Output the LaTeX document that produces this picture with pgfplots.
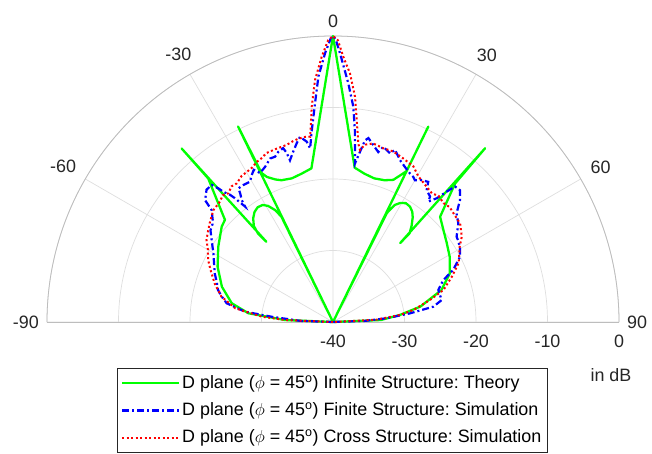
\documentclass[border=0pt]{standalone}
\usepackage{fontspec}
\setmainfont{Liberation Sans}
\usepackage{pgfplots}
\usepackage{pgfplotstable}
\pgfplotsset{compat=1.18}
\usepgfplotslibrary{polar}
\definecolor{ticktext}{HTML}{262626}
\definecolor{gridc}{HTML}{DEDEDE}
\definecolor{rimc}{HTML}{BDBDBD}
\definecolor{mgreen}{HTML}{00FF00}
\definecolor{mblue}{HTML}{0000FF}
\definecolor{mred}{HTML}{FF0000}

\pgfplotstableread{
t r
-90 -40
-87.6 -33.3
-84.1 -28.1
-79.5 -25.6
-72.4 -23.7
-64.4 -22.1
-56.7 -20.8
-49.4 -19.5
-46.6 -19.2
-41.0 -13.4
-41.1 -7.8
-39.7 -25.4
-40.3 -23.8
-39.5 -22.6
-37.6 -21.7
-35.5 -21.1
-33.3 -20.8
-31.0 -20.9
-29.2 -21.4
-27.3 -22.4
-26.1 -23.6
-25.9 -40
-25.9 -9.6
-25.6 -16.9
-24.5 -17.7
-22 -18.5
-20 -18.9
-16 -19.1
-12 -18.8
-8.0 -18.3
0 0
8.0 -18.2
12 -18.8
16 -19.1
20 -18.9
23 -18.4
25.3 -17.0
26.0 -16.5
26.0 -9.6
26.1 -40
26.3 -23.0
27.8 -21.5
29.4 -20.9
31.5 -20.5
33.7 -20.6
35.7 -21.0
37.3 -21.6
39.2 -22.6
40.8 -23.6
40.4 -25.5
41.2 -7.7
41.4 -14.2
45.5 -19.0
50.2 -19.9
55 -20.6
60.8 -21.3
67.4 -22.3
73.6 -24.2
80 -27.6
84 -30.6
87.6 -33.3
90 -40
}\greendata

\pgfplotstableread{
t r
-90 -40
-88 -35.4
-85.1 -31.4
-83.3 -27.6
-80 -24.9
-77 -24.0
-74.4 -23.3
-71 -22.8
-67.6 -22.1
-64 -21.5
-60.1 -20.7
-55.9 -19.5
-53.2 -18.6
-51 -18.3
-49.6 -17.9
-47.3 -16.9
-46.4 -15.3
-43.7 -14.4
-41.5 -14.4
-40.6 -15.4
-40.1 -16.2
-39 -17.1
-38.4 -17.9
-37.3 -19.7
-36.8 -18.7
-35.8 -17.8
-35.3 -17.1
-33.2 -17.1
-30.6 -17.2
-28.9 -16.5
-27.5 -16.0
-26.1 -16.8
-23.6 -16.3
-21 -15.5
-19.3 -15.5
-17.8 -15.0
-16 -14.7
-15.3 -15.5
-14.9 -16.6
-13.1 -15.5
-11.5 -14.5
-10.1 -13.7
-8.3 -14.5
-7.5 -15.5
-6.3 -13.0
-4.7 -9.3
-3.4 -5.6
-1.7 -2.4
-0.5 -0.4
0 0
0.5 -0.4
1.5 -2.4
3.67 -6.55
5.39 -9.75
6.5 -13.0
7.9 -17.6
9.0 -15.9
10.0 -14.2
10.9 -13.8
12.8 -14.6
14.9 -15.4
16.0 -14.5
18.7 -15.1
19.8 -14.4
22.5 -15.5
24.9 -16.1
27.4 -16.6
28.9 -16.8
30 -17.1
32 -16.6
34.2 -16.3
35.4 -17.4
37.7 -17.8
38.4 -18.5
40 -17.4
41.1 -15.8
42 -14.5
43.9 -14.4
46.2 -15.4
48.7 -17.0
51.8 -17.7
55.4 -19.0
56.8 -19.1
59.5 -19.4
62.8 -20.0
66.6 -21.7
69.2 -23.5
73.1 -24.6
78.6 -24.5
81.3 -25.8
83.6 -29.2
86 -32.5
88 -35.5
90 -40
}\bluedata

\pgfplotstableread{
t r
-90 -40
-87.6 -33.3
-85.7 -30.0
-82 -26.2
-77.2 -24.0
-72 -22.6
-67 -21.4
-63.6 -20.5
-60 -19.8
-57 -18.9
-54 -18.4
-51.3 -17.9
-47 -17.1
-43.2 -16.9
-41 -16.5
-39.1 -16.8
-36.8 -16.3
-34.8 -16.4
-32 -15.9
-29.9 -15.8
-27.5 -15.6
-25.5 -15.2
-23.5 -15.0
-21.5 -14.6
-18 -14.5
-14.7 -14.4
-12.5 -14.1
-10.7 -13.9
-8.1 -13.8
-7.0 -13.9
-5.65 -9.74
-4.25 -6.06
-2.44 -2.87
-1 -0.6
0 0
1 -0.6
2.22 -2.87
3.9 -5.13
5.58 -8.34
6.7 -11.55
8.06 -14.76
8.9 -15.65
10.2 -14.8
12.7 -14.4
16.1 -14.7
19.5 -14.7
23.2 -15.1
27.3 -15.5
30.4 -16.4
34 -16.9
37.5 -17.3
40 -17.0
42.9 -17.3
45.5 -17.1
47.9 -17.3
52.2 -17.5
56.5 -18.4
59.3 -19.4
64.9 -20.6
69.1 -22.2
73.8 -23.9
77.2 -26.1
81.5 -28.6
84 -30.6
87 -34
90 -40
}\reddata

\begin{document}
\frenchspacing
\fontsize{17.9}{21.5}\selectfont
\begin{tikzpicture}
\begin{polaraxis}[
  name=ax,
  scale only axis, width=572pt,
  xmin=0, xmax=180, ymin=0, ymax=40,
  xtick={0,30,...,180},
  xticklabels={90,60,30,0,-30,-60,-90},
  ytick={0,10,20,30,40},
  yticklabels={-40,-30,-20,-10,0},
  grid=major,
  major grid style={draw=gridc, line width=0.7pt},
  axis line style={draw=rimc, line width=0.8pt},
  tick style={draw=none},
  ticklabel style={font=\fontsize{17.9}{21.5}\selectfont, text=ticktext},
  xticklabel style={inner sep=8pt},
  yticklabel style={anchor=north, inner sep=0pt, yshift=-13pt},
  clip=false,
  legend image code/.code={\draw[#1] (0pt,0pt) -- (57pt,0pt);},
  legend cell align=left,
  legend style={at={(axis description cs:0.1224,-0.1609)}, anchor=north west,
    draw=ticktext, line width=0.7pt, font=\fontsize{17.9}{21.5}\selectfont,
    row sep=7.5pt, inner xsep=3.5pt, inner ysep=5pt},
]
\addplot[mgreen, line width=2.3pt, line join=round] table[x expr={90-\thisrow{t}}, y expr={\thisrow{r}+40}] {\greendata};
\addlegendentry{D plane ($\phi$ = 45\textsuperscript{o}) Infinite Structure: Theory}
\addplot[mblue, line width=2.2pt, dash pattern=on 7pt off 3pt on 2pt off 3pt] table[x expr={90-\thisrow{t}}, y expr={\thisrow{r}+40}] {\bluedata};
\addlegendentry{D plane ($\phi$ = 45\textsuperscript{o}) Finite Structure: Simulation}
\addplot[mred, line width=2pt, dash pattern=on 2pt off 2.5pt] table[x expr={90-\thisrow{t}}, y expr={\thisrow{r}+40}] {\reddata};
\addlegendentry{D plane ($\phi$ = 45\textsuperscript{o}) Cross Structure: Simulation}
\coordinate (C) at (axis cs:0,0);
\end{polaraxis}
\node[text=ticktext, font=\fontsize{17.9}{21.5}\selectfont] at ([shift={(278pt,-53pt)}]C) {in dB};
\pgfresetboundingbox
\path[use as bounding box] ([shift={(-333pt,-131pt)}]C) rectangle ([shift={(319pt,322pt)}]C);
\end{tikzpicture}
\end{document}
